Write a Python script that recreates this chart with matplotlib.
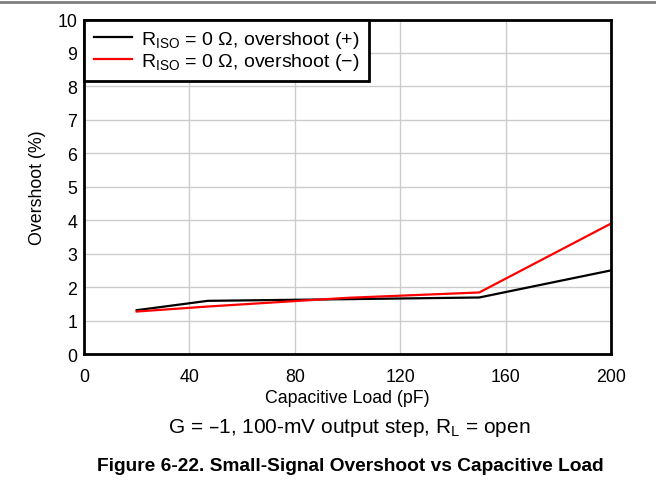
import numpy as np
import matplotlib
matplotlib.use("Agg")
import matplotlib.pyplot as plt
from matplotlib.lines import Line2D

plt.rcParams['font.family'] = ['Liberation Sans', 'DejaVu Sans']
plt.rcParams['mathtext.default'] = 'regular'

# data
cap_load = [20, 47, 100, 150, 200]
overshoot_pos = [1.31, 1.59, 1.64, 1.69, 2.5]
overshoot_neg = [1.27, 1.42, 1.68, 1.84, 3.9]
labels = ['R$_{ISO}$ = 0 Ω, overshoot (+)', 'R$_{ISO}$ = 0 Ω, overshoot (−)']
x_ticks = [0, 40, 80, 120, 160, 200]
y_ticks = list(range(0, 11))

fig = plt.figure(figsize=(6.56, 4.85), dpi=100)
ax = fig.add_axes([0.128, 0.268, 0.8034, 0.6897])

ax.plot(cap_load, overshoot_pos, color='black', lw=1.6, label=labels[0])
ax.plot(cap_load, overshoot_neg, color='#ff0000', lw=1.6, label=labels[1])

ax.set_xlim(0, 200)
ax.set_ylim(0, 10)
ax.set_xticks(x_ticks)
ax.set_yticks(y_ticks)
ax.grid(True, color='#cccccc', lw=1)
ax.set_axisbelow(True)
ax.tick_params(length=0, labelsize=12.8)
ax.tick_params(axis='x', pad=10)
ax.tick_params(axis='y', pad=5)
for s in ax.spines.values():
    s.set_linewidth(2)

ax.set_xlabel('Capacitive Load (pF)', fontsize=12.8, labelpad=3)
ax.set_ylabel('Overshoot (%)', fontsize=12.8, labelpad=8)

leg = ax.legend(loc='upper left', fontsize=14, fancybox=False, framealpha=1,
                borderaxespad=0, handlelength=1.95, labelspacing=0.02,
                borderpad=0.5, handletextpad=0.5)
leg.get_frame().set_edgecolor('black')
leg.get_frame().set_linewidth(2)

fig.text(0.532, 0.1175, 'G = –1, 100-mV output step, R$_{L}$ = open',
         ha='center', va='center', fontsize=15)
fig.text(0.534, 0.039, 'Figure 6-22. Small-Signal Overshoot vs Capacitive Load',
         ha='center', va='center', fontsize=13.8, fontweight='bold')

fig.add_artist(Line2D([0, 1], [0.994, 0.994], color='#808080', lw=2,
                      transform=fig.transFigure))

fig.savefig('out.png', dpi=100)
